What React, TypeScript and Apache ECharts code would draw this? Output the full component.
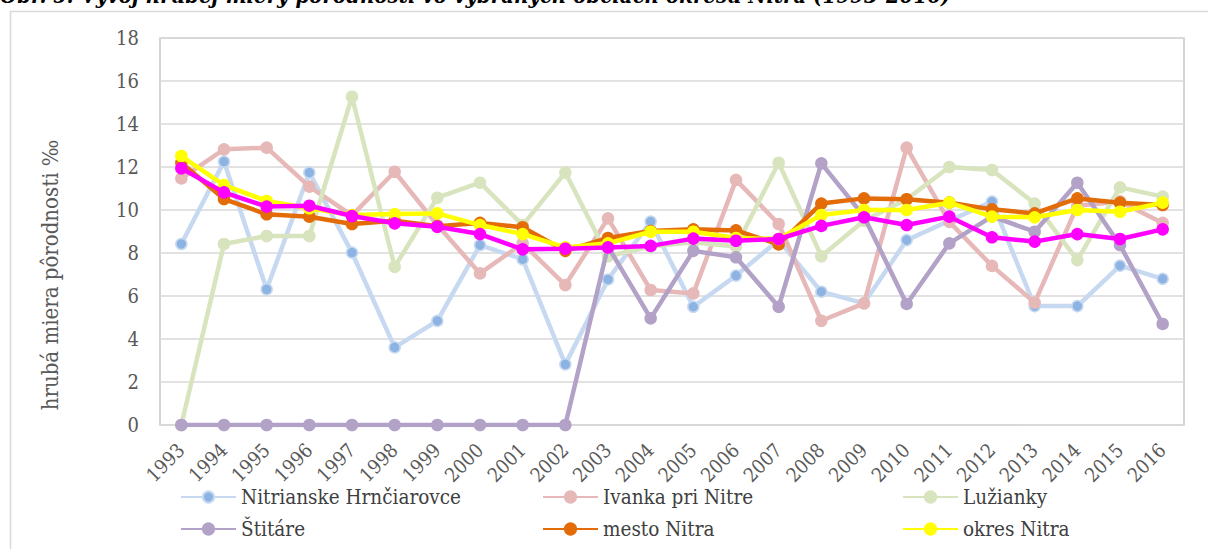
import React, { useEffect, useRef } from "react";
import * as echarts from "echarts";

const years = ["1993","1994","1995","1996","1997","1998","1999","2000","2001","2002","2003","2004","2005","2006","2007","2008","2009","2010","2011","2012","2013","2014","2015","2016"];
const yTicks = [0, 2, 4, 6, 8, 10, 12, 14, 16, 18];

const nitrianskeHrnciarovce = [8.42,12.25,6.31,11.74,8.02,3.61,4.84,8.37,7.71,2.82,6.77,9.46,5.5,6.95,8.6,6.2,5.66,8.6,9.5,10.39,5.53,5.53,7.41,6.8];
const ivankaPriNitre = [11.47,12.82,12.9,11.09,9.75,11.78,9.3,7.05,8.45,6.51,9.61,6.28,6.12,11.4,9.35,4.85,5.66,12.9,9.45,7.4,5.69,10.2,10.4,9.4];
const luzianky = [0,8.42,8.79,8.79,15.27,7.36,10.57,11.27,9.3,11.74,7.85,8.3,8.5,8.3,12.2,7.85,9.5,10.5,12.0,11.86,10.3,7.67,11.05,10.62];
const stitare = [0,0,0,0,0,0,0,0,0,0,8.3,4.96,8.1,7.8,5.5,12.17,9.7,5.63,8.45,9.7,8.99,11.27,8.37,4.7];
const mestoNitra = [12.2,10.51,9.8,9.69,9.35,9.5,9.25,9.4,9.2,8.1,8.7,9.02,9.1,9.05,8.4,10.3,10.54,10.5,10.34,10.03,9.84,10.54,10.34,10.23];
const okresNitra = [12.51,11.16,10.42,10.08,9.77,9.81,9.84,9.3,8.88,8.26,8.45,8.99,8.99,8.7,8.65,9.77,10.0,10.0,10.34,9.69,9.66,10.0,9.92,10.34];
const slovensko = [11.94,10.82,10.16,10.2,9.72,9.38,9.22,8.88,8.17,8.2,8.26,8.33,8.67,8.57,8.65,9.26,9.66,9.3,9.69,8.73,8.53,8.88,8.65,9.1];

const titleText = "Obr. 5: Vývoj hrubej miery pôrodnosti vo vybraných obciach okresu Nitra (1993-2016)";
const yAxisTitle = "hrubá miera pôrodnosti ‰";

const FONT = "DejaVu Serif Condensed";

function mkSeries(name: string, data: number[], line: string, marker: string, border: string, z: number) {
  return {
    name,
    type: "line",
    data,
    z,
    symbol: "circle",
    symbolSize: 11,
    showSymbol: true,
    lineStyle: { color: line, width: 4.5 },
    itemStyle: { color: marker, borderColor: border, borderWidth: 1.5 },
    emphasis: { disabled: true },
  };
}

export default function App() {
  const ref = useRef<HTMLDivElement>(null);
  useEffect(() => {
    if (!ref.current) return;
    const chart = echarts.init(ref.current, null, { renderer: "svg" });
    const legendText = { fontFamily: FONT, fontSize: 20.5, color: "#404040", lineHeight: 22 };
    const legendCommon = {
      orient: "vertical",
      top: 486,
      itemWidth: 55,
      itemHeight: 14,
      itemGap: 10,
      textStyle: legendText,
      selectedMode: false,
      padding: 0,
    };
    chart.setOption({
      animation: false,
      backgroundColor: "#ffffff",
      grid: {
        left: 160,
        right: 24,
        top: 38,
        bottom: 124,
        show: true,
        borderColor: "#c8c8c8",
        borderWidth: 1.5,
        backgroundColor: "transparent",
      },
      legend: [
        { ...legendCommon, left: 180, data: ["Nitrianske Hrnčiarovce", "Štitáre"] },
        { ...legendCommon, left: 542, data: ["Ivanka pri Nitre", "mesto Nitra"] },
        { ...legendCommon, left: 902, data: ["Lužianky", "okres Nitra"] },
      ],
      xAxis: {
        type: "category",
        data: years,
        boundaryGap: true,
        axisLine: { show: true, lineStyle: { color: "#d9d9d9", width: 1.5 } },
        axisTick: { show: false },
        axisLabel: {
          interval: 0,
          rotate: 45,
          margin: 22,
          fontFamily: FONT,
          fontSize: 19.5,
          color: "#595959",
        },
      },
      yAxis: {
        type: "value",
        min: yTicks[0],
        max: yTicks[yTicks.length - 1],
        interval: 2,
        axisLine: { show: false },
        axisTick: { show: false },
        splitLine: { show: true, lineStyle: { color: "#d9d9d9", width: 1.5 } },
        axisLabel: { margin: 21, fontFamily: FONT, fontSize: 20, color: "#595959" },
      },
      graphic: [
        {
          type: "rect",
          shape: { x: 10.5, y: 11.5, width: 1300, height: 600 },
          style: { fill: "none", stroke: "#d9d9d9", lineWidth: 1.5 },
          silent: true,
          z: -10,
        },
        {
          type: "text",
          x: 0,
          y: -16,
          style: {
            text: titleText,
            fontFamily: FONT,
            fontSize: 22,
            fontStyle: "italic",
            fontWeight: "bold",
            fill: "#000000",
          },
          silent: true,
        },
        {
          type: "text",
          x: 50,
          y: 275,
          rotation: Math.PI / 2,
          style: {
            text: yAxisTitle,
            fontFamily: FONT,
            fontSize: 22,
            fill: "#595959",
            align: "center",
            verticalAlign: "middle",
          },
          silent: true,
        },
      ],
      series: [
        mkSeries("Nitrianske Hrnčiarovce", nitrianskeHrnciarovce, "#c6d9f1", "#8db3e2", "#c6d9f1", 2),
        mkSeries("Ivanka pri Nitre", ivankaPriNitre, "#e6b9b8", "#e6b9b8", "#e6b9b8", 3),
        mkSeries("Lužianky", luzianky, "#d7e4bd", "#d7e4bd", "#d7e4bd", 4),
        mkSeries("Štitáre", stitare, "#b3a2c7", "#b3a2c7", "#b3a2c7", 5),
        mkSeries("mesto Nitra", mestoNitra, "#e36c09", "#e36c09", "#e36c09", 6),
        mkSeries("okres Nitra", okresNitra, "#ffff00", "#ffff00", "#ffff00", 7),
        mkSeries("Slovenská republika", slovensko, "#ff00ff", "#ff00ff", "#ff00ff", 8),
      ],
    });
    return () => chart.dispose();
  }, []);
  return (
    <div
      ref={ref}
      style={{ position: "fixed", left: 0, top: 0, width: 1208, height: 549, background: "#fff" }}
    />
  );
}
